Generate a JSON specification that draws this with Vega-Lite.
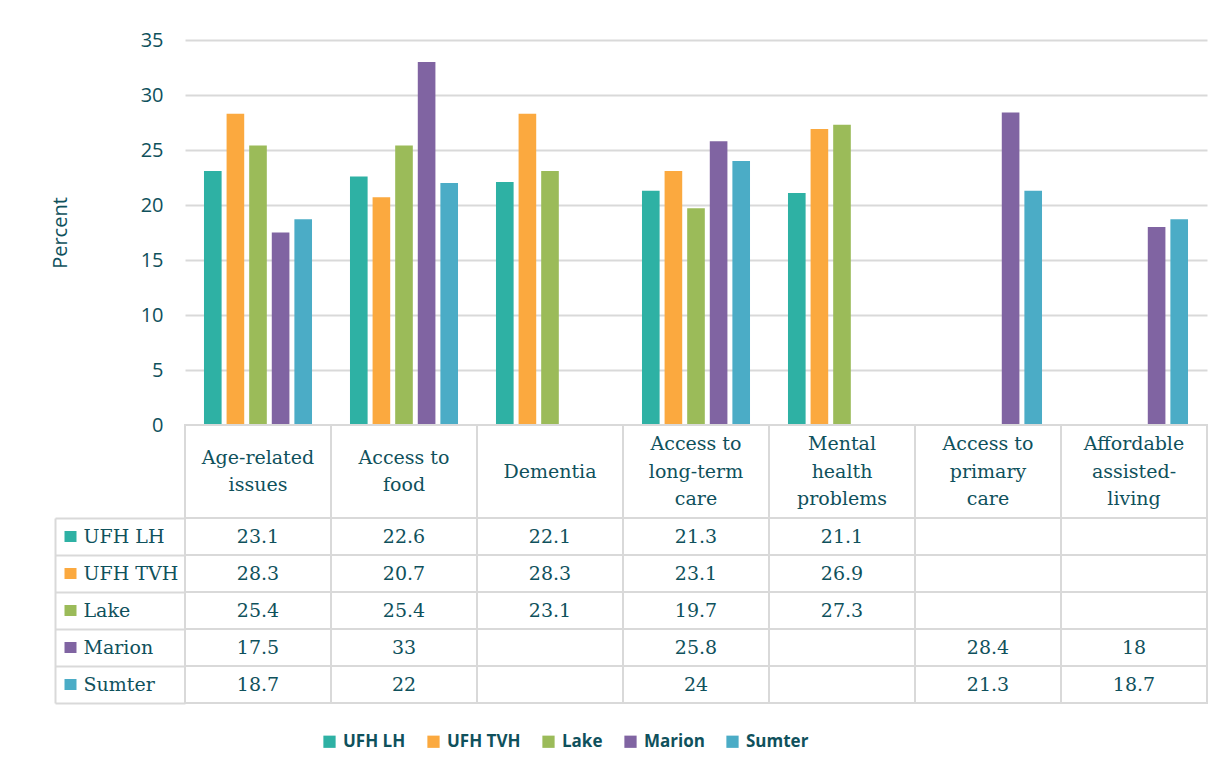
{
  "$schema": "https://vega.github.io/schema/vega-lite/v6.json",
  "background": "white",
  "padding": {"left": 50, "top": 30, "right": 10, "bottom": 10},
  "spacing": 0,
  "bounds": "flush",
  "config": {"view": {"stroke": null}, "concat": {"spacing": 0}},
  "datasets": {
    "vals": [
      {"category": "Age-related issues", "series": "UFH LH", "value": 23.1},
      {"category": "Age-related issues", "series": "UFH TVH", "value": 28.3},
      {"category": "Age-related issues", "series": "Lake", "value": 25.4},
      {"category": "Age-related issues", "series": "Marion", "value": 17.5},
      {"category": "Age-related issues", "series": "Sumter", "value": 18.7},
      {"category": "Access to food", "series": "UFH LH", "value": 22.6},
      {"category": "Access to food", "series": "UFH TVH", "value": 20.7},
      {"category": "Access to food", "series": "Lake", "value": 25.4},
      {"category": "Access to food", "series": "Marion", "value": 33},
      {"category": "Access to food", "series": "Sumter", "value": 22},
      {"category": "Dementia", "series": "UFH LH", "value": 22.1},
      {"category": "Dementia", "series": "UFH TVH", "value": 28.3},
      {"category": "Dementia", "series": "Lake", "value": 23.1},
      {"category": "Dementia", "series": "Marion", "value": null},
      {"category": "Dementia", "series": "Sumter", "value": null},
      {"category": "Access to long-term care", "series": "UFH LH", "value": 21.3},
      {"category": "Access to long-term care", "series": "UFH TVH", "value": 23.1},
      {"category": "Access to long-term care", "series": "Lake", "value": 19.7},
      {"category": "Access to long-term care", "series": "Marion", "value": 25.8},
      {"category": "Access to long-term care", "series": "Sumter", "value": 24},
      {"category": "Mental health problems", "series": "UFH LH", "value": 21.1},
      {"category": "Mental health problems", "series": "UFH TVH", "value": 26.9},
      {"category": "Mental health problems", "series": "Lake", "value": 27.3},
      {"category": "Mental health problems", "series": "Marion", "value": null},
      {"category": "Mental health problems", "series": "Sumter", "value": null},
      {"category": "Access to primary care", "series": "UFH LH", "value": null},
      {"category": "Access to primary care", "series": "UFH TVH", "value": null},
      {"category": "Access to primary care", "series": "Lake", "value": null},
      {"category": "Access to primary care", "series": "Marion", "value": 28.4},
      {"category": "Access to primary care", "series": "Sumter", "value": 21.3},
      {"category": "Affordable assisted-living", "series": "UFH LH", "value": null},
      {"category": "Affordable assisted-living", "series": "UFH TVH", "value": null},
      {"category": "Affordable assisted-living", "series": "Lake", "value": null},
      {"category": "Affordable assisted-living", "series": "Marion", "value": 18},
      {"category": "Affordable assisted-living", "series": "Sumter", "value": 18.7}
    ],
    "cats": [
      {"category": "Age-related issues", "label": "Age-related\nissues"},
      {"category": "Access to food", "label": "Access to\nfood"},
      {"category": "Dementia", "label": "Dementia"},
      {"category": "Access to long-term care", "label": "Access to\nlong-term\ncare"},
      {"category": "Mental health problems", "label": "Mental\nhealth\nproblems"},
      {"category": "Access to primary care", "label": "Access to\nprimary\ncare"},
      {"category": "Affordable assisted-living", "label": "Affordable\nassisted-\nliving"}
    ]
  },
  "vconcat": [
    {
      "width": 1022,
      "height": 385,
      "data": {"name": "vals"},
      "mark": {"type": "bar"},
      "encoding": {
        "x": {"field": "category", "type": "nominal",
              "scale": {"domain": ["Age-related issues", "Access to food", "Dementia", "Access to long-term care", "Mental health problems", "Access to primary care", "Affordable assisted-living"], "paddingInner": 0, "paddingOuter": 0},
              "axis": null},
        "xOffset": {"field": "series", "type": "nominal",
              "scale": {"domain": ["UFH LH", "UFH TVH", "Lake", "Marion", "Sumter"], "paddingInner": 0.22, "paddingOuter": 0.84}},
        "y": {"field": "value", "type": "quantitative",
              "scale": {"domain": [0, 35], "nice": false},
              "axis": {"values": [0, 5, 10, 15, 20, 25, 30, 35], "title": "Percent", "grid": true, "gridColor": "#D9D9D9", "gridWidth": 2,
                       "domain": false, "ticks": false, "labelFont": "Open Sans", "labelFontSize": 20, "labelColor": "#0F515C", "labelPadding": 22,
                       "titleFont": "Open Sans", "titleFontSize": 20, "titleFontWeight": "normal", "titleColor": "#0F515C", "titlePadding": 70}},
        "color": {"field": "series", "type": "nominal",
              "scale": {"domain": ["UFH LH", "UFH TVH", "Lake", "Marion", "Sumter"], "range": ["#2EB1A4", "#FBA93F", "#9BBB59", "#8064A2", "#4BACC6"]},
              "legend": {"orient": "none", "legendX": 136, "legendY": 693, "direction": "horizontal", "title": null, "symbolType": "square", "symbolSize": 150, "symbolStrokeWidth": 0,
                         "labelFont": "Open Sans", "labelFontSize": 17, "labelFontWeight": "bold", "labelColor": "#0F515C", "columnPadding": 19, "labelOffset": 5}}
      }
    },
    {
      "width": 1022,
      "height": 93,
      "data": {"name": "cats"},
      "encoding": {
        "x": {"field": "category", "type": "nominal",
              "scale": {"domain": ["Age-related issues", "Access to food", "Dementia", "Access to long-term care", "Mental health problems", "Access to primary care", "Affordable assisted-living"], "paddingInner": 0, "paddingOuter": 0},
              "axis": null},
        "text": {"field": "label", "type": "nominal"}
      },
      "layer": [
        {
          "mark": {"type": "rect", "fill": "white", "stroke": "#D9D9D9", "strokeWidth": 2}
        },
        {
          "transform": [{"filter": "length(split(datum.label, '\\n')) == 1"}],
          "mark": {"type": "text", "font": "DejaVu Serif", "fontSize": 19, "color": "#0F515C", "lineBreak": "\n", "lineHeight": 27.5, "baseline": "middle", "align": "center", "dy": 0}
        },
        {
          "transform": [{"filter": "length(split(datum.label, '\\n')) == 2"}],
          "mark": {"type": "text", "font": "DejaVu Serif", "fontSize": 19, "color": "#0F515C", "lineBreak": "\n", "lineHeight": 27.5, "baseline": "middle", "align": "center", "dy": -13.75}
        },
        {
          "transform": [{"filter": "length(split(datum.label, '\\n')) == 3"}],
          "mark": {"type": "text", "font": "DejaVu Serif", "fontSize": 19, "color": "#0F515C", "lineBreak": "\n", "lineHeight": 27.5, "baseline": "middle", "align": "center", "dy": -27.5}
        }
      ]
    },
    {
      "width": 1022,
      "height": 185,
      "data": {"name": "vals"},
      "layer": [
        {
          "mark": {"type": "rect", "fill": "white", "stroke": "#D9D9D9", "strokeWidth": 2},
          "encoding": {
            "x": {"field": "category", "type": "nominal",
                  "scale": {"domain": ["Age-related issues", "Access to food", "Dementia", "Access to long-term care", "Mental health problems", "Access to primary care", "Affordable assisted-living"], "paddingInner": 0, "paddingOuter": 0},
                  "axis": null},
            "y": {"field": "series", "type": "nominal",
                  "scale": {"domain": ["UFH LH", "UFH TVH", "Lake", "Marion", "Sumter"], "paddingInner": 0, "paddingOuter": 0},
                  "axis": {"orient": "left", "offset": 130, "domain": true, "domainColor": "#D9D9D9", "domainWidth": 2,
                           "ticks": true, "tickBand": "extent", "tickSize": -130, "tickColor": "#D9D9D9", "tickWidth": 2,
                           "labels": false, "title": null, "grid": false}}
          }
        },
        {
          "transform": [{"filter": "isValid(datum.value)"}],
          "mark": {"type": "text", "font": "DejaVu Serif", "fontSize": 19, "color": "#0F515C", "baseline": "middle", "align": "center"},
          "encoding": {
            "x": {"field": "category", "type": "nominal", "axis": null},
            "y": {"field": "series", "type": "nominal",
                  "axis": {"orient": "left", "offset": 109, "domain": false, "ticks": true, "tickSize": 12, "tickWidth": 11,
                           "tickColor": {"condition": [
                             {"test": "datum.value === 'UFH LH'", "value": "#2EB1A4"},
                             {"test": "datum.value === 'UFH TVH'", "value": "#FBA93F"},
                             {"test": "datum.value === 'Lake'", "value": "#9BBB59"},
                             {"test": "datum.value === 'Marion'", "value": "#8064A2"}], "value": "#4BACC6"},
                           "labelAlign": "left", "labelPadding": -19, "labelFont": "DejaVu Serif", "labelFontSize": 19, "labelColor": "#0F515C",
                           "title": null, "grid": false}},
            "text": {"field": "value", "type": "quantitative"}
          }
        }
      ],
      "resolve": {"axis": {"y": "independent"}}
    }
  ]
}
